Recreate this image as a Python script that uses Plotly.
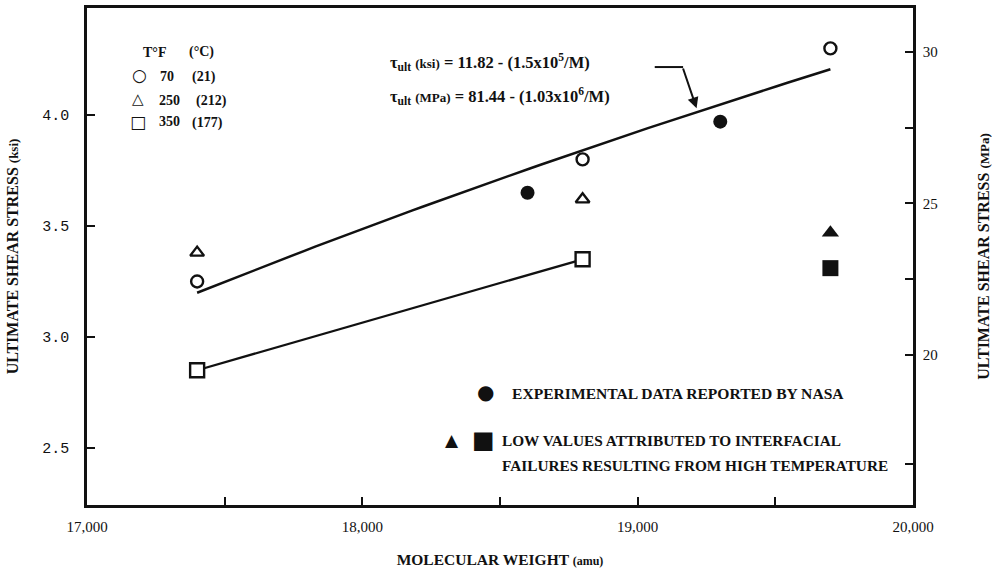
import numpy as np
import plotly.graph_objects as go

# Molecular weight (amu) and ultimate shear stress (ksi)
m_70f = [17400, 18800, 19700]
tau_70f = [3.25, 3.80, 4.30]
m_250f = [17400, 18800]
tau_250f = [3.38, 3.62]
m_350f = [17400, 18800]
tau_350f = [2.85, 3.35]
m_nasa = [18600, 19300]
tau_nasa = [3.65, 3.97]
m_low = [19700]
tau_low_250f = [3.47]
tau_low_350f = [3.31]

# Fit: tau_ult (ksi) = 11.82 - 1.5e5 / M
fit_a, fit_b = 11.82, 1.5e5
fit_m = np.linspace(17400, 19700, 60)
fit_tau = fit_a - fit_b / fit_m

x_ticks = [17000, 18000, 19000, 20000]
x_tick_text = ["17,000", "18,000", "19,000", "20,000"]
y_ticks = [2.5, 3.0, 3.5, 4.0]
y2_ticks = [20, 25, 30]

SERIF = "Liberation Serif"
BLACK = "#111111"

fig = go.Figure()

# fitted curve and 350 F trend line
fig.add_trace(go.Scatter(x=fit_m, y=fit_tau, mode="lines",
                         line=dict(color=BLACK, width=2.5), hoverinfo="skip"))
fig.add_trace(go.Scatter(x=m_350f, y=tau_350f, mode="lines",
                         line=dict(color=BLACK, width=2.3), hoverinfo="skip"))

open_marker = dict(color="white", line=dict(color=BLACK, width=2.4))
fig.add_trace(go.Scatter(x=m_70f, y=tau_70f, mode="markers",
                         marker=dict(symbol="circle", size=12, **open_marker)))
fig.add_trace(go.Scatter(x=m_250f, y=tau_250f, mode="markers",
                         marker=dict(symbol="triangle-up", size=12, **open_marker)))
fig.add_trace(go.Scatter(x=m_350f, y=tau_350f, mode="markers",
                         marker=dict(symbol="square", size=14, **open_marker)))
fig.add_trace(go.Scatter(x=m_nasa, y=tau_nasa, mode="markers",
                         marker=dict(symbol="circle", size=14, color=BLACK)))
fig.add_trace(go.Scatter(x=m_low, y=tau_low_250f, mode="markers",
                         marker=dict(symbol="triangle-up", size=15, color=BLACK)))
fig.add_trace(go.Scatter(x=m_low, y=tau_low_350f, mode="markers",
                         marker=dict(symbol="square", size=16, color=BLACK)))
# carries the MPa axis
fig.add_trace(go.Scatter(x=[18000], y=[25], yaxis="y2", mode="markers",
                         marker=dict(opacity=0), hoverinfo="skip"))

annotations = []

def text(x, y, s, size=14, family=SERIF, xanchor="left"):
    annotations.append(dict(x=x, y=y, xref="paper", yref="paper", text=s, showarrow=False,
                            xanchor=xanchor, yanchor="middle",
                            font=dict(family=family, size=size, color=BLACK)))

def px(xp, yp):
    # page pixel -> paper fraction of the plotting frame
    return (xp - 87) / (913 - 87), (505 - yp) / (505 - 8)

# temperature key
for xp, yp, s in [
    (141, 52, "<b>T°F</b>"), (187, 52, "<b>(°C)</b>"),
    (158, 76, "<b>70</b>"), (190, 77, "<b>(21)</b>"),
    (157, 100, "<b>250</b>"), (194, 101, "<b>(212)</b>"),
    (157, 122, "<b>350</b>"), (190, 123, "<b>(177)</b>"),
]:
    x, y = px(xp, yp)
    text(x, y, s, size=14)
for xp, yp, s, sz in [(130, 75, "<b>○</b>", 17), (130, 99, "<b>△</b>", 15), (128, 122, "<b>□</b>", 17)]:
    x, y = px(xp, yp)
    text(x, y, s, size=sz, family="DejaVu Sans")

# fit equations
x, y = px(388, 62)
text(x, y, "<b>τ<sub>ult</sub> <span style='font-size:13px'>(ksi)</span> = 11.82 - (1.5x10<sup>5</sup>/M)</b>", size=16.5)
x, y = px(388, 96)
text(x, y, "<b>τ<sub>ult</sub> <span style='font-size:13px'>(MPa)</span> = 81.44 - (1.03x10<sup>6</sup>/M)</b>", size=16.5)

# notes
x, y = px(475, 392)
text(x, y, "●", size=20, family="DejaVu Sans")
x, y = px(510, 393)
text(x, y, "<b>EXPERIMENTAL DATA REPORTED BY NASA</b>", size=15.6)
x, y = px(443, 440)
text(x, y, "▲", size=17, family="DejaVu Sans")
x, y = px(470, 440)
text(x, y, "■", size=24, family="DejaVu Sans")
x, y = px(500, 440)
text(x, y, "<b>LOW VALUES ATTRIBUTED TO INTERFACIAL</b>", size=15.3)
x, y = px(500, 465)
text(x, y, "<b>FAILURES RESULTING FROM HIGH TEMPERATURE</b>", size=15.3)

# pointer from the equations to the curve
annotations.append(dict(x=19214, y=4.03, ax=19163, ay=4.216, xref="x", yref="y",
                        axref="x", ayref="y", text="", showarrow=True,
                        arrowhead=2, arrowsize=1.1, arrowwidth=2, arrowcolor=BLACK))

shapes = [dict(type="line", xref="x", yref="y", x0=19062, x1=19165, y0=4.216, y1=4.216,
               line=dict(color=BLACK, width=2))]

axis_line = dict(showline=True, linecolor=BLACK, linewidth=2.5, showgrid=False,
                 zeroline=False, ticks="inside", tickcolor=BLACK, tickwidth=1.5,
                 automargin=False)

fig.update_layout(
    width=992, height=573,
    margin=dict(l=87, r=79, t=8, b=68),
    paper_bgcolor="white", plot_bgcolor="white",
    showlegend=False,
    annotations=annotations,
    shapes=shapes,
    xaxis=dict(range=[17000, 20000], tickvals=x_ticks, ticktext=x_tick_text,
               ticklen=8, mirror=True, ticklabelstandoff=6,
               minor=dict(dtick=500, ticks="inside", ticklen=8, tickcolor=BLACK),
               tickfont=dict(family=SERIF, size=15, color=BLACK),
               title=dict(text="<b>MOLECULAR WEIGHT <span style='font-size:12px'>(amu)</span></b>",
                          font=dict(family=SERIF, size=15.5, color=BLACK), standoff=21),
               **axis_line),
    yaxis=dict(range=[2.243, 4.482], tickvals=y_ticks, ticktext=["2.5", "3.0", "3.5", "4.0"],
               ticklen=8, mirror=True, ticklabelstandoff=12,
               tickfont=dict(family="Liberation Mono", size=15, color=BLACK),
               title=dict(text="<b>ULTIMATE SHEAR STRESS <span style='font-size:13px'>(ksi)</span></b>",
                          font=dict(family=SERIF, size=16, color=BLACK), standoff=20),
               **axis_line),
    yaxis2=dict(range=[15.05, 31.45], overlaying="y", side="right",
                tickvals=y2_ticks, ticklen=8, ticklabelstandoff=4,
                minor=dict(tickvals=[16.4, 22.5, 27.5], ticks="inside", ticklen=8, tickcolor=BLACK),
                tickfont=dict(family=SERIF, size=15, color=BLACK),
                title=dict(text="<b>ULTIMATE SHEAR STRESS <span style='font-size:13px'>(MPa)</span></b>",
                           font=dict(family=SERIF, size=16, color=BLACK), standoff=42),
                **axis_line),
)

fig.write_html("out.html")
